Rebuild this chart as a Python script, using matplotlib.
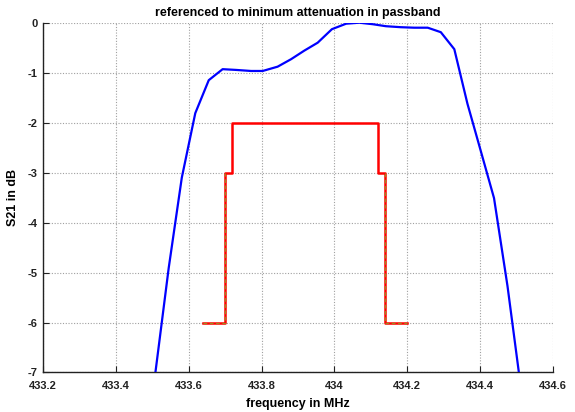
import matplotlib
matplotlib.use("Agg")
import matplotlib.pyplot as plt

plt.rcParams['font.family'] = ['Liberation Sans', 'DejaVu Sans']
plt.rcParams['axes.unicode_minus'] = False

# Measured S21 response (MHz, dB)
freq = [433.508, 433.545, 433.581, 433.618, 433.655, 433.693, 433.730, 433.771,
        433.803, 433.844, 433.881, 433.917, 433.954, 433.993, 434.032, 434.068,
        434.105, 434.141, 434.182, 434.219, 434.256, 434.292, 434.329, 434.365,
        434.401, 434.438, 434.475, 434.512]
s21 = [-7.03, -4.91, -3.10, -1.81, -1.15, -0.93, -0.945, -0.966,
       -0.966, -0.88, -0.73, -0.56, -0.40, -0.13, -0.02, 0.0,
       -0.03, -0.07, -0.09, -0.10, -0.10, -0.19, -0.53, -1.62,
       -2.55, -3.51, -5.27, -7.32]

# Tolerance mask
mask_f = [433.64, 433.70, 433.70, 433.72, 433.72, 434.12, 434.12, 434.14, 434.14, 434.20]
mask_db = [-6, -6, -3, -3, -2, -2, -3, -3, -6, -6]
lowL_f = [433.64, 433.70, 433.70]
lowL_db = [-6, -6, -3]
lowR_f = [434.14, 434.14, 434.20]
lowR_db = [-3, -6, -6]

xticks = [433.2, 433.4, 433.6, 433.8, 434.0, 434.2, 434.4, 434.6]
xticklabels = ['433.2', '433.4', '433.6', '433.8', '434', '434.2', '434.4', '434.6']
yticks = [0, -1, -2, -3, -4, -5, -6, -7]
yticklabels = ['0', '-1', '-2', '-3', '-4', '-5', '-6', '-7']

fig = plt.figure(figsize=(5.75, 4.12), dpi=100)
ax = fig.add_axes([0.0748, 0.0959, 0.887, 0.849])

ax.plot(freq, s21, color='#0000ff', lw=1.6, zorder=3)
ax.plot(mask_f, mask_db, color='#ff0000', lw=1.8, zorder=4)
ax.plot(lowL_f, lowL_db, color='#9a8a1a', lw=0.9, ls=(0, (3, 2)), zorder=5)
ax.plot(lowR_f, lowR_db, color='#9a8a1a', lw=0.9, ls=(0, (3, 2)), zorder=5)

ax.set_xlim(433.2, 434.6)
ax.set_ylim(-7, 0)
ax.set_xticks(xticks)
ax.set_xticklabels(xticklabels)
ax.set_yticks(yticks)
ax.set_yticklabels(yticklabels)

ax.grid(True, color='#a0a0a0', ls=(0, (1, 1.5)), lw=0.8)
ax.set_axisbelow(True)
for s in ['top', 'right']:
    ax.spines[s].set_visible(False)
for s in ['left', 'bottom']:
    ax.spines[s].set_linewidth(1.0)
    ax.spines[s].set_color('#222222')
ax.tick_params(direction='in', length=4, width=0.8, labelsize=8, colors='#222222')
ax.tick_params(axis='x', pad=6)
ax.tick_params(axis='y', pad=4)
for lab in ax.get_xticklabels() + ax.get_yticklabels():
    lab.set_fontweight('bold')

ax.set_xlabel('frequency in MHz', fontsize=9, fontweight='bold', labelpad=5)
ax.set_ylabel('S21 in dB', fontsize=9, fontweight='bold', labelpad=6)
ax.set_title('referenced to minimum attenuation in passband', fontsize=9, fontweight='bold', pad=5)

fig.savefig('out.png', dpi=100)
